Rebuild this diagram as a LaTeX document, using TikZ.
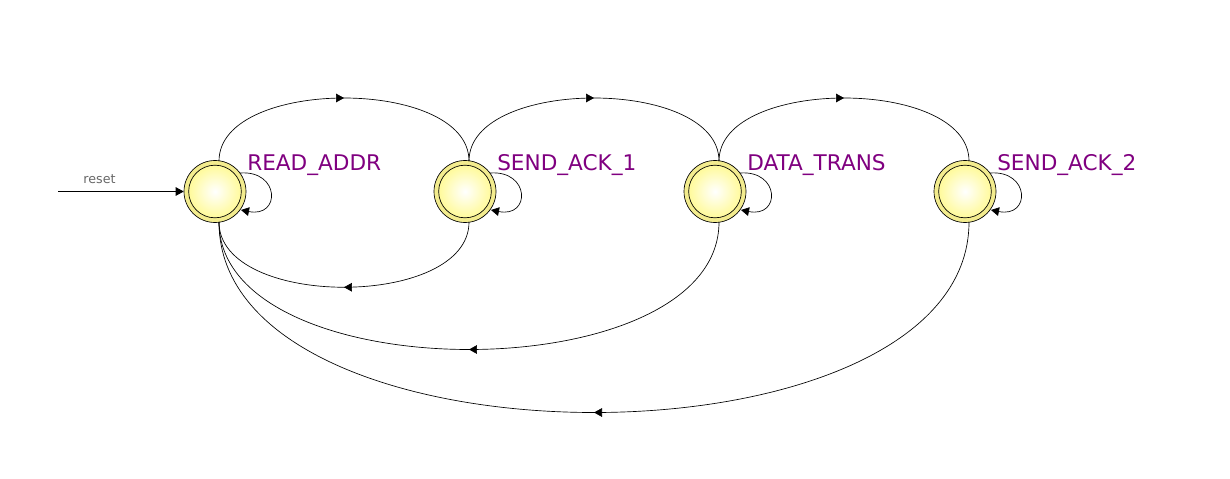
\documentclass[tikz,border=0pt]{standalone}
\usepackage{fontspec}
\setmainfont{DejaVu Sans}
\usetikzlibrary{arrows.meta,decorations.markings}
\definecolor{lblpurple}{HTML}{800080}
\definecolor{ringyellow}{HTML}{F3EC8E}
\definecolor{inneryellow}{HTML}{FFFA9A}
\tikzset{
  px/.style={x=0.75pt,y=-0.75pt},
  statering/.style={circle,draw=black,line width=0.5pt,fill=ringyellow,minimum size=46.5pt,inner sep=0pt},
  stateinner/.style={circle,draw=black,line width=0.5pt,inner color=white,outer color=inneryellow,minimum size=39.5pt,inner sep=0pt},
  statelabel/.style={text=lblpurple,font=\fontsize{16.2pt}{18pt}\selectfont,anchor=base west,inner sep=0pt},
  tr/.style={draw=black,line width=0.5pt},
  midarrow/.style={postaction={decorate},decoration={markings,mark=at position 0.5 with {\arrow{Triangle[length=6pt,width=6.5pt]}}}},
  endarrow/.style={-{Triangle[length=6pt,width=6.5pt]}},
}
\begin{document}
\begin{tikzpicture}[px]
\useasboundingbox (0,0) rectangle (1230,478);
\foreach \n/\x in {ra/215,s1/465,dt/715,s2/965}{
  \node[statering] (\n) at (\x,191.5) {};
  \node[stateinner] (\n i) at (\x,191.5) {};
  \coordinate (\n t) at (\x+4,161);
  \coordinate (\n b) at (\x+4,222);
  \coordinate (\n lo) at (\x+25,173);
  \coordinate (\n li) at (\x+26,210);
}
\node[statelabel] (lra) at (247,170) {READ\_ADDR};
\node[statelabel] (ls1) at (497,170) {SEND\_ACK\_1};
\node[statelabel] (ldt) at (747,170) {DATA\_TRANS};
\node[statelabel] (ls2) at (997,170) {SEND\_ACK\_2};
% top arcs
\draw[tr,midarrow] (rat) .. controls (219,77) and (469,77) .. (s1t);
\draw[tr,midarrow] (s1t) .. controls (469,77) and (719,77) .. (dtt);
\draw[tr,midarrow] (dtt) .. controls (719,77) and (969,77) .. (s2t);
% bottom arcs
\draw[tr,midarrow] (s1b) .. controls (469,309) and (219,309) .. (rab);
\draw[tr,midarrow] (dtb) .. controls (719,392) and (219,392) .. (rab);
\draw[tr,midarrow] (s2b) .. controls (969,476) and (219,476) .. (rab);
% self loops
\foreach \n in {ra,s1,dt,s2}{
  \draw[tr,endarrow] (\n lo) .. controls +(40,-3) and +(40,8) .. (\n li);
}
% reset
\coordinate (rst) at (58,191.5);
\draw[tr,endarrow] (rst) -- (ra.west) node[pos=0.33,above=2pt,text=black!60,font=\fontsize{9.5pt}{11pt}\selectfont] (rl) {reset};
\end{tikzpicture}
\end{document}
